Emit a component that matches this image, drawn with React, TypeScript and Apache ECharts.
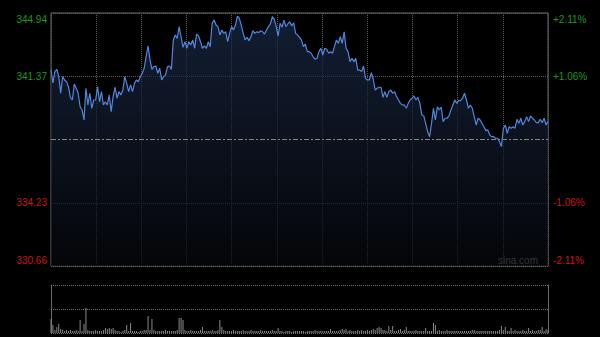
import React, { useEffect, useRef } from 'react';
import * as echarts from 'echarts';

const prices: number[] = [
  341.72, 340.99, 341.63, 341.76, 341.35, 340.41, 341.35, 341.16, 341.06, 340.78,
  340.18, 340.03, 340.93, 340.69, 340.41, 339.65, 339.47, 338.90, 340.69, 339.75,
  340.41, 339.56, 340.03, 340.03, 340.78, 339.93, 340.50, 339.75, 339.93, 339.75,
  340.31, 339.37, 340.22, 340.75, 340.13, 340.50, 340.31, 340.59, 341.35, 340.97,
  340.50, 340.88, 340.50, 340.97, 341.16, 341.06, 341.35, 341.54, 341.82, 342.47,
  343.08, 342.29, 341.76, 341.91, 341.95, 341.54, 341.82, 341.16, 341.35, 341.44,
  341.91, 341.95, 341.76, 343.42, 343.70, 343.51, 344.17, 343.60, 343.00, 343.32,
  342.95, 343.32, 343.13, 343.42, 342.95, 343.75, 343.64, 343.32, 342.95, 343.08,
  342.95, 343.32, 343.04, 344.36, 344.54, 344.26, 344.17, 343.70, 343.98, 343.79,
  343.88, 343.32, 343.79, 344.17, 343.98, 344.26, 344.77, 344.64, 344.26, 343.79,
  343.42, 343.57, 343.38, 343.60, 343.94, 343.79, 343.88, 343.83, 343.94, 343.88,
  343.75, 343.98, 344.17, 344.32, 344.73, 344.58, 344.17, 343.64, 344.36, 344.13,
  344.54, 344.17, 344.32, 344.45, 344.21, 344.39, 343.79, 343.70, 343.57, 343.42,
  343.04, 343.19, 342.76, 342.76, 342.67, 342.47, 342.33, 342.38, 342.76, 342.95,
  342.57, 342.95, 342.89, 342.67, 342.76, 342.67, 343.04, 343.42, 343.23, 343.60,
  343.23, 343.88, 342.95, 342.76, 342.19, 342.38, 342.19, 342.38, 341.72, 341.72,
  341.63, 341.95, 341.25, 341.16, 341.16, 341.57, 341.20, 340.59, 340.69, 340.75,
  340.75, 340.18, 340.50, 340.18, 340.50, 340.59, 340.41, 340.50, 340.22, 340.03,
  339.84, 339.75, 339.75, 339.56, 339.84, 340.03, 340.13, 340.26, 340.03, 340.18,
  339.84, 339.18, 339.13, 338.71, 338.24, 337.96, 338.71, 339.56, 338.90, 339.65,
  339.47, 339.62, 338.81, 339.00, 339.00, 339.13, 339.47, 339.75, 340.03, 339.84,
  339.99, 339.99, 340.13, 340.41, 340.03, 339.56, 339.75, 339.56, 339.09, 338.62,
  339.00, 338.90, 338.71, 338.52, 338.30, 338.34, 338.05, 337.96, 337.96, 337.87,
  337.87, 337.68, 337.40, 338.43, 338.62, 338.15, 338.52, 338.43, 338.52, 338.43,
  338.94, 338.71, 339.00, 338.62, 338.81, 339.09, 338.81, 339.13, 339.00, 338.90,
  338.75, 338.75, 338.94, 338.75, 339.00, 338.62, 338.81,
];

const volumes: number[] = [
  14, 8, 3, 6, 9, 4, 3, 2, 3, 2,
  3, 2, 2, 3, 2, 13, 2, 9, 25, 3,
  2, 2, 2, 3, 2, 2, 2, 3, 5, 4,
  5, 4, 5, 3, 2, 2, 1, 2, 3, 8,
  2, 10, 2, 2, 2, 1, 2, 2, 3, 3,
  17, 3, 14, 3, 2, 2, 2, 2, 2, 3,
  2, 2, 2, 2, 2, 3, 15, 15, 13, 3,
  2, 2, 3, 2, 2, 2, 2, 3, 6, 2,
  2, 2, 2, 3, 2, 2, 3, 13, 6, 3,
  2, 2, 2, 2, 3, 2, 2, 2, 2, 3,
  2, 2, 2, 3, 2, 2, 2, 2, 3, 2,
  2, 2, 2, 2, 3, 2, 2, 5, 2, 2,
  1, 2, 2, 2, 1, 2, 2, 2, 2, 2,
  2, 1, 2, 2, 2, 2, 3, 2, 2, 2,
  2, 2, 2, 2, 4, 2, 2, 2, 2, 3,
  4, 3, 4, 2, 3, 2, 2, 2, 3, 2,
  3, 2, 2, 3, 2, 3, 4, 3, 5, 6,
  5, 3, 3, 2, 7, 3, 7, 2, 2, 3,
  4, 2, 3, 6, 2, 2, 2, 2, 3, 2,
  2, 2, 2, 5, 2, 2, 2, 10, 8, 2,
  3, 2, 2, 2, 3, 2, 2, 2, 2, 2,
  2, 2, 2, 2, 2, 2, 2, 3, 3, 2,
  2, 2, 2, 2, 2, 2, 2, 2, 2, 2,
  2, 3, 7, 3, 6, 2, 2, 5, 2, 3,
  2, 2, 2, 3, 2, 2, 5, 2, 3, 2,
  2, 3, 3, 6, 2, 4, 3,
];

const prevClose = 337.8;
const priceMin = 330.66;
const priceMax = 344.94;
const priceStep = 3.57;
const volMax = 48;
const leftLabels = ['330.66', '334.23', '', '341.37', '344.94'];
const rightLabels = ['-2.11%', '-1.06%', '', '+1.06%', '+2.11%'];
const timeSlots = prices.map((_, i) => String(i));
const timeDivisions = 11;

const GREEN = '#1c9a1c';
const RED = '#cc1414';
const GRID = '#5c5c5c';
const FONT = 'Arial, "Liberation Sans", sans-serif';

function makeRich() {
  return {
    g: { color: GREEN, fontSize: 10, fontFamily: FONT },
    r: { color: RED, fontSize: 10, fontFamily: FONT },
    gt: { color: GREEN, fontSize: 10, fontFamily: FONT, padding: [12, 0, 0, 0] },
    rb: { color: RED, fontSize: 10, fontFamily: FONT, padding: [0, 0, 12, 0] },
  };
}

function fmt(labels: string[]) {
  return (_v: number, idx: number) => {
    const t = labels[idx];
    if (!t) return '';
    if (idx === 0) return `{rb|${t}}`;
    if (idx === labels.length - 1) return `{gt|${t}}`;
    return idx < 2 ? `{r|${t}}` : `{g|${t}}`;
  };
}

export default function App() {
  const ref = useRef<HTMLDivElement>(null);
  useEffect(() => {
    if (!ref.current) return;
    const chart = echarts.init(ref.current, undefined, { renderer: 'svg' });
    chart.setOption({
      animation: false,
      backgroundColor: '#000',
      grid: [
        { left: 51, top: 13, width: 497, height: 253, show: true, borderColor: '#6a6a6a', borderWidth: 1, backgroundColor: 'transparent' },
        { left: 51, top: 285, width: 497, height: 48, show: false },
      ],
      xAxis: [
        { type: 'category', gridIndex: 0, data: timeSlots, boundaryGap: false, show: false },
        {
          type: 'value', gridIndex: 0, min: 0, max: timeDivisions, interval: 1,
          axisLine: { show: false }, axisTick: { show: false }, axisLabel: { show: false },
          splitLine: { show: true, lineStyle: { color: GRID, type: 'dotted', width: 1 } },
        },
        { type: 'category', gridIndex: 1, data: timeSlots, boundaryGap: false, show: false },
      ],
      yAxis: [
        {
          type: 'value', gridIndex: 0, position: 'left', min: priceMin, max: priceMax, interval: priceStep,
          axisLine: { show: false }, axisTick: { show: false },
          axisLabel: { margin: 4, formatter: fmt(leftLabels), rich: makeRich() },
          splitLine: { show: true, lineStyle: { color: [GRID, GRID, 'transparent', GRID, GRID], type: 'dotted', width: 1 } },
        },
        {
          type: 'value', gridIndex: 0, position: 'right', min: priceMin, max: priceMax, interval: priceStep,
          axisLine: { show: false }, axisTick: { show: false },
          axisLabel: { margin: 5, formatter: fmt(rightLabels), rich: makeRich() },
          splitLine: { show: false },
        },
        {
          type: 'value', gridIndex: 1, position: 'left', min: 0, max: volMax, interval: volMax / 2,
          axisLine: { show: true, lineStyle: { color: '#6a6a6a' } }, axisTick: { show: false }, axisLabel: { show: false },
          splitLine: { show: true, lineStyle: { color: '#707070', type: 'dotted', width: 1 } },
        },
        {
          type: 'value', gridIndex: 1, position: 'right', min: 0, max: volMax, interval: volMax / 2,
          axisLine: { show: true, lineStyle: { color: '#6a6a6a' } }, axisTick: { show: false }, axisLabel: { show: false },
          splitLine: { show: false },
        },
      ],
      series: [
        {
          type: 'line', xAxisIndex: 0, yAxisIndex: 0, data: prices, symbol: 'none',
          lineStyle: { color: '#4f87dc', width: 1.2 },
          areaStyle: {
            color: new echarts.graphic.LinearGradient(0, 0, 0, 1, [
              { offset: 0, color: '#1b2a48' },
              { offset: 1, color: '#06080c' },
            ]),
          },
          markLine: {
            silent: true, symbol: 'none', label: { show: false },
            lineStyle: { color: '#858585', type: [5, 2, 2, 2], width: 1 },
            data: [{ yAxis: prevClose }],
          },
        },
        {
          type: 'bar', xAxisIndex: 2, yAxisIndex: 2, data: volumes, barWidth: 1,
          itemStyle: { color: '#8a8a8a' },
        },
      ],
      graphic: [
        {
          type: 'text', left: 498, top: 255,
          style: { text: 'sina.com', fill: '#9a9a9a', fontSize: 10, fontFamily: FONT },
        },
      ],
    });
    return () => chart.dispose();
  }, []);
  return <div ref={ref} style={{ position: 'absolute', left: 0, top: 0, width: 600, height: 337, background: '#000' }} />;
}
